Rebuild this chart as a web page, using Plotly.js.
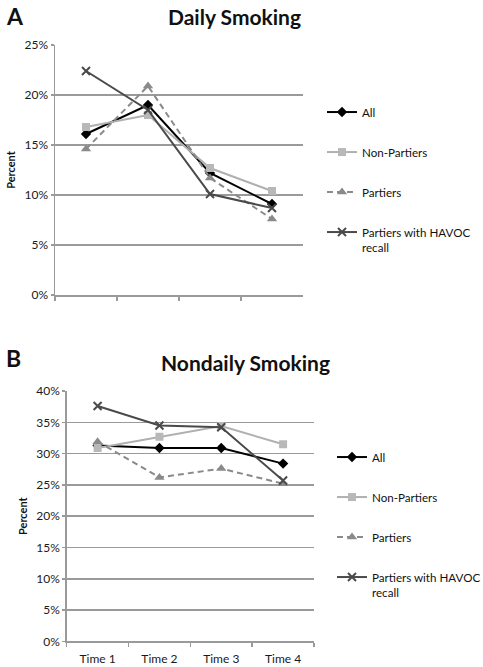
<!DOCTYPE html>
<html>
<head>
<meta charset="utf-8">
<script src="https://cdn.plot.ly/plotly-3.0.1.min.js"></script>
<style>html,body{margin:0;padding:0;background:#fff;}#chart{width:483px;height:667px;}</style>
</head>
<body>
<div id="chart"></div>
<script>
const times = ["Time 1", "Time 2", "Time 3", "Time 4"];
const seriesNames = ["All", "Non-Partiers", "Partiers", "Partiers with HAVOC<br>recall"];

// Panel A: Daily smoking (%)
const dailyAll = [16.1, 19.0, 12.2, 9.1];
const dailyNonPartiers = [16.8, 18.0, 12.7, 10.4];
const dailyPartiers = [14.6, 20.9, 11.7, 7.6];
const dailyHavoc = [22.4, 18.5, 10.1, 8.7];

// Panel B: Nondaily smoking (%)
const nondailyAll = [31.3, 30.9, 30.9, 28.4];
const nondailyNonPartiers = [30.9, 32.7, 34.4, 31.5];
const nondailyPartiers = [31.9, 26.2, 27.6, 25.2];
const nondailyHavoc = [37.6, 34.5, 34.2, 25.7];

const W = 483, H = 667;
const px = v => v / W;
const py = v => 1 - v / H;

const styles = [
  {line: {color: "#000000", width: 2}, marker: {symbol: "diamond", size: 8, color: "#000000"}},
  {line: {color: "#b0b0b0", width: 2}, marker: {symbol: "square", size: 8, color: "#b8b8b8"}},
  {line: {color: "#8a8a8a", width: 2, dash: "6px,4px"}, marker: {symbol: "triangle-up", size: 9, color: "#8a8a8a"}},
  {line: {color: "#4a4a4a", width: 2}, marker: {symbol: "x-thin-open", size: 8, color: "#4a4a4a", line: {width: 2, color: "#4a4a4a"}}}
];

const dailySets = [dailyAll, dailyNonPartiers, dailyPartiers, dailyHavoc];
const nondailySets = [nondailyAll, nondailyNonPartiers, nondailyPartiers, nondailyHavoc];

const traces = [];
dailySets.forEach((vals, i) => {
  traces.push(Object.assign({
    type: "scatter", mode: "lines+markers", x: times, y: vals, name: seriesNames[i],
    xaxis: "x", yaxis: "y", legend: "legend", legendgroup: "a" + i
  }, JSON.parse(JSON.stringify(styles[i]))));
});
nondailySets.forEach((vals, i) => {
  traces.push(Object.assign({
    type: "scatter", mode: "lines+markers", x: times, y: vals, name: seriesNames[i],
    xaxis: "x2", yaxis: "y2", legend: "legend2", legendgroup: "b" + i
  }, JSON.parse(JSON.stringify(styles[i]))));
});

const fontFam = "Lato, 'Open Sans', sans-serif";
const axisCommonX = {
  type: "category", categoryorder: "array", categoryarray: times, range: [-0.5, 3.5],
  showline: true, linecolor: "#9a9a9a", linewidth: 1.5, ticks: "outside", tickson: "boundaries",
  ticklen: 4, tickcolor: "#9a9a9a", tickwidth: 1.5, showgrid: false, zeroline: false, fixedrange: true,
  ticklabelstandoff: 6,
  tickfont: {family: fontFam, size: 12, color: "#1a1a1a"}
};
const axisCommonY = {
  showline: true, linecolor: "#9a9a9a", linewidth: 1.5, ticks: "outside", ticklen: 3, tickcolor: "#9a9a9a",
  tickwidth: 1.5, showgrid: true, gridcolor: "#9a9a9a", gridwidth: 1.5, zeroline: false, dtick: 5,
  ticksuffix: "%", tickfont: {family: fontFam, size: 12, color: "#1a1a1a"}, fixedrange: true,
  title: {text: "<b>Percent</b>", font: {family: fontFam, size: 11, color: "#111"}, standoff: 6}
};

const legendCommon = {
  font: {family: fontFam, size: 11.6, color: "#111"}, bgcolor: "rgba(0,0,0,0)",
  traceorder: "grouped", tracegroupgap: 21, xanchor: "left", yanchor: "top", itemwidth: 30,
  valign: "top", borderwidth: 0
};

const layout = {
  width: W, height: H, margin: {l: 0, r: 0, t: 0, b: 0, autoexpand: false},
  paper_bgcolor: "#fff", plot_bgcolor: "#fff", showlegend: true,
  font: {family: fontFam},
  xaxis: Object.assign({}, axisCommonX, {domain: [px(55), px(303)], anchor: "y", showticklabels: false}),
  yaxis: Object.assign({}, axisCommonY, {domain: [py(295), py(45)], anchor: "x", range: [0, 25]}),
  xaxis2: Object.assign({}, axisCommonX, {domain: [px(66.7), px(314)], anchor: "y2"}),
  yaxis2: Object.assign({}, axisCommonY, {domain: [py(641.4), py(391)], anchor: "x2", range: [0, 40]}),
  legend: Object.assign({}, legendCommon, {x: px(322), y: py(98)}),
  legend2: Object.assign({}, legendCommon, {x: px(332), y: py(443)}),
  annotations: [
    {text: "<b>A</b>", x: px(4), y: py(16), xref: "paper", yref: "paper", xanchor: "left", yanchor: "middle", showarrow: false, font: {family: fontFam, size: 23, color: "#111"}},
    {text: "<b>Daily Smoking</b>", x: px(234.5), y: py(17), xref: "paper", yref: "paper", xanchor: "center", yanchor: "middle", showarrow: false, font: {family: fontFam, size: 21, color: "#111"}},
    {text: "<b>B</b>", x: px(4), y: py(358), xref: "paper", yref: "paper", xanchor: "left", yanchor: "middle", showarrow: false, font: {family: fontFam, size: 23, color: "#111"}},
    {text: "<b>Nondaily Smoking</b>", x: px(245), y: py(362), xref: "paper", yref: "paper", xanchor: "center", yanchor: "middle", showarrow: false, font: {family: fontFam, size: 21, color: "#111"}}
  ]
};

Plotly.newPlot("chart", traces, layout, {displayModeBar: false, staticPlot: true});
</script>
</body>
</html>
